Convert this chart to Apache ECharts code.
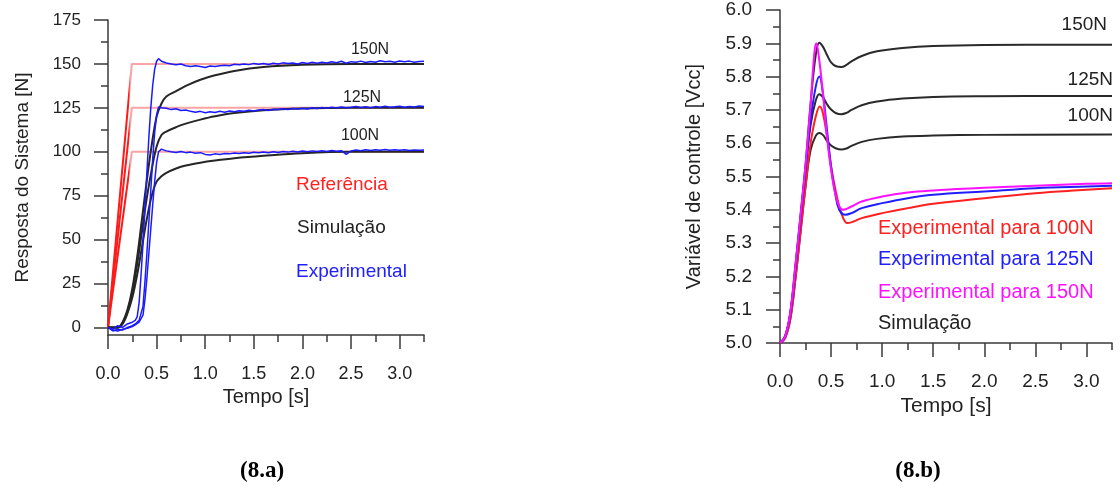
<!DOCTYPE html>
<html><head><meta charset="utf-8">
<script src="https://cdn.jsdelivr.net/npm/echarts@6/dist/echarts.min.js"></script>
<style>html,body{margin:0;padding:0;background:#fff}#c{width:1120px;height:490px}</style>
</head><body><div id="c"></div><script>
// ---------- Chart 8.a : system response ----------
const xMajor = [0, 0.5, 1, 1.5, 2, 2.5, 3];
const xMinor = [0.25, 0.75, 1.25, 1.75, 2.25, 2.75, 3.25];
const leftYMajor = [0, 25, 50, 75, 100, 125, 150, 175];
const leftYMinor = [12.5, 37.5, 62.5, 87.5, 112.5, 137.5, 162.5];

const refT = [0, 0.245, 3.25];
const ref150 = [0, 150, 150];
const ref125 = [0, 125, 125];
const ref100 = [0, 100, 100];

const simT = [0, 0.1, 0.15, 0.2, 0.25, 0.3, 0.35, 0.4, 0.45, 0.5, 0.55, 0.6, 0.7, 0.8, 0.95, 1.1, 1.3, 1.6, 2.0, 2.5, 3.25];
const sim150 = [0, 0, 3, 10, 22, 40, 62, 84, 104, 120, 127.5, 131.5, 134.5, 137.5, 141, 143.5, 146, 148.2, 149.5, 150, 150];
const sim125 = [0, 0, 2.5, 9, 20, 36, 55, 74, 90, 103, 109.5, 111.5, 114, 116, 118.3, 120.2, 122, 123.6, 124.6, 125, 125];
const sim100 = [0, 0, 2, 8, 17, 30, 46, 62, 75, 83, 86, 88, 90.5, 92.2, 93.8, 95, 96.3, 97.7, 99.2, 100, 100];

const expT = [0, 0.05, 0.1, 0.15, 0.2, 0.25, 0.28, 0.3, 0.32, 0.34, 0.36, 0.38, 0.4, 0.42, 0.44, 0.46, 0.48, 0.5, 0.52, 0.55,
  0.6, 0.65, 0.7, 0.75, 0.8, 0.85, 0.9, 0.95, 1, 1.05, 1.1, 1.15, 1.2, 1.25, 1.3, 1.35, 1.4, 1.45, 1.5, 1.55, 1.6, 1.65, 1.7, 1.75,
  1.8, 1.85, 1.9, 1.95, 2, 2.05, 2.1, 2.15, 2.2, 2.25, 2.3, 2.35, 2.4, 2.45, 2.5, 2.55, 2.6, 2.65, 2.7, 2.75, 2.8, 2.85, 2.9, 2.95,
  3, 3.05, 3.1, 3.15, 3.2, 3.25];
const exp150 = [0, -1, 1, 0, 2, 3, 4, 6, 14, 30, 48, 68, 88, 108, 125, 138, 147, 151.5, 153, 151.5,
  150.5, 150, 149.5, 150, 149, 148.5, 149, 148.5, 148, 148.8, 148.5, 149, 149.3, 149, 149.8, 149.5, 150, 149.6, 150.3, 149.8,
  150.2, 149.7, 150.4, 150, 150.6, 150.2, 150.5, 150, 150.8, 150.3, 150.9, 150.4, 151, 150.5, 151.2, 150.7, 151.5, 150.4,
  151.3, 151, 151.6, 150.8, 151.4, 151, 151.8, 151.2, 151.5, 151, 151.7, 151.2, 151.6, 151, 151.4, 151.5];
const exp125 = [0, -2, -1, -1.5, 0, 1, 2, 3, 4, 5, 12, 26, 42, 60, 78, 96, 111, 121, 125.5, 125,
  124.8, 124, 124.5, 123.5, 123.8, 123, 122.5, 123, 122.2, 122.8, 122.4, 123, 122.5, 123.2, 122.8, 123.4, 123, 123.6, 123.2,
  123.8, 124, 123.5, 124.2, 124, 124.5, 124.1, 124.6, 124.3, 124.8, 124.4, 125, 124.6, 125.2, 124.8, 125.4, 124.9, 125.5,
  125, 125.3, 125.8, 125.2, 125.6, 125.1, 125.7, 125.3, 125.9, 125.4, 125.6, 125.9, 125.3, 125.8, 125.5, 126, 125.7];
const exp100 = [0, -1.5, -2, -1, -0.5, 0.5, 1.5, 2, 3, 4, 7, 16, 28, 42, 56, 70, 83, 94, 100, 101.5,
  100.5, 100, 99.6, 100.2, 99.5, 99.8, 99.2, 99.5, 98.5, 98.2, 98.8, 98.5, 99, 98.8, 99.3, 99, 99.5, 99.2, 99.7, 99.4, 99.9,
  99.5, 100, 99.6, 100.2, 99.8, 100.3, 99.9, 100.4, 100, 100.5, 100.1, 100.6, 100.2, 100.7, 100.3, 100.6, 98.5, 100.5, 101,
  100.6, 101.2, 100.7, 101.1, 100.8, 101.3, 100.9, 101.2, 100.8, 101.1, 100.7, 101, 100.9, 101];

// ---------- Chart 8.b : control variable ----------
const rightYMajor = [5.0, 5.1, 5.2, 5.3, 5.4, 5.5, 5.6, 5.7, 5.8, 5.9, 6.0];
const rightYMinor = [5.05, 5.15, 5.25, 5.35, 5.45, 5.55, 5.65, 5.75, 5.85, 5.95];

const ctrlSimT = [0, 0.05, 0.1, 0.15, 0.2, 0.25, 0.3, 0.35, 0.385, 0.42, 0.46, 0.5, 0.55, 0.6, 0.65, 0.7, 0.8, 0.95, 1.2, 1.5, 2.0, 3.25];
const ctrlSim150 = [5, 5.02, 5.09, 5.23, 5.38, 5.535, 5.72, 5.865, 5.902, 5.89, 5.865, 5.843, 5.831, 5.829, 5.835, 5.846, 5.862, 5.876, 5.886, 5.892, 5.895, 5.896];
const ctrlSim125 = [5, 5.02, 5.085, 5.22, 5.37, 5.52, 5.655, 5.728, 5.747, 5.738, 5.717, 5.701, 5.69, 5.687, 5.691, 5.7, 5.714, 5.725, 5.734, 5.739, 5.741, 5.742];
const ctrlSim100 = [5, 5.015, 5.07, 5.19, 5.33, 5.47, 5.58, 5.622, 5.631, 5.625, 5.607, 5.593, 5.584, 5.581, 5.584, 5.592, 5.604, 5.613, 5.62, 5.623, 5.625, 5.626];

const ctrlExp150T = [0, 0.05, 0.1, 0.15, 0.2, 0.25, 0.3, 0.336, 0.355, 0.38, 0.42, 0.46, 0.5, 0.54, 0.58, 0.62, 0.7, 0.8, 1.0, 1.25, 1.5, 2.0, 2.5, 3.0, 3.25];
const ctrlExp150 = [5, 5.02, 5.09, 5.23, 5.38, 5.535, 5.72, 5.87, 5.9, 5.86, 5.75, 5.62, 5.52, 5.45, 5.41, 5.4, 5.41, 5.425, 5.44, 5.452, 5.458, 5.466, 5.472, 5.478, 5.48];
const ctrlExp125T = [0, 0.05, 0.1, 0.15, 0.2, 0.25, 0.3, 0.35, 0.385, 0.42, 0.46, 0.5, 0.54, 0.58, 0.64, 0.7, 0.8, 1.0, 1.25, 1.5, 2.0, 2.5, 3.0, 3.25];
const ctrlExp125 = [5, 5.02, 5.085, 5.22, 5.37, 5.52, 5.67, 5.77, 5.8, 5.75, 5.64, 5.53, 5.45, 5.4, 5.385, 5.39, 5.405, 5.42, 5.435, 5.445, 5.455, 5.465, 5.47, 5.472];
const ctrlExp100T = [0, 0.05, 0.1, 0.15, 0.2, 0.25, 0.3, 0.35, 0.39, 0.42, 0.46, 0.5, 0.55, 0.6, 0.66, 0.72, 0.8, 1.0, 1.25, 1.5, 2.0, 2.5, 3.0, 3.25];
const ctrlExp100 = [5, 5.015, 5.07, 5.19, 5.33, 5.47, 5.6, 5.68, 5.71, 5.69, 5.62, 5.53, 5.45, 5.39, 5.36, 5.365, 5.375, 5.39, 5.405, 5.418, 5.435, 5.45, 5.46, 5.465];

// ---------- build ----------
const FONT = 'Liberation Sans';
const AX = '#3a3a3a';
const pair = (t, v) => t.map((x, i) => [x, v[i]]);

function majorX(grid, fs, margin, nameGap, tickLen) {
  return {
    type: 'value', gridIndex: grid, min: 0, max: 3.25, position: 'bottom',
    axisLine: {show: true, onZero: false, lineStyle: {color: AX, width: 1.5}},
    axisTick: {show: true, customValues: xMajor, length: tickLen, lineStyle: {color: AX, width: 1.5}},
    axisLabel: {customValues: xMajor, formatter: v => v.toFixed(1), margin: margin, fontSize: fs, color: '#222', fontFamily: FONT},
    splitLine: {show: false},
    name: 'Tempo [s]', nameLocation: 'middle', nameGap: nameGap,
    nameTextStyle: {fontSize: fs + 2, color: '#222', fontFamily: FONT}
  };
}
function minorX(grid, tickLen) {
  return {
    type: 'value', gridIndex: grid, min: 0, max: 3.25, position: 'bottom',
    axisLine: {show: false, onZero: false},
    axisTick: {show: true, customValues: xMinor, length: tickLen, lineStyle: {color: AX, width: 1.5}},
    axisLabel: {show: false}, splitLine: {show: false}
  };
}
function majorY(grid, min, max, vals, fmt, fs, margin, name, nameGap, nfs, tickLen) {
  return {
    type: 'value', gridIndex: grid, min: min, max: max, position: 'left',
    axisLine: {show: true, onZero: false, lineStyle: {color: AX, width: 1.5}},
    axisTick: {show: true, customValues: vals, length: tickLen, lineStyle: {color: AX, width: 1.5}},
    axisLabel: {customValues: vals, formatter: fmt, margin: margin, fontSize: fs, color: '#222', fontFamily: FONT},
    splitLine: {show: false},
    name: name, nameLocation: 'middle', nameGap: nameGap,
    nameTextStyle: {fontSize: nfs, color: '#222', fontFamily: FONT}
  };
}
function minorY(grid, min, max, vals, tickLen) {
  return {
    type: 'value', gridIndex: grid, min: min, max: max, position: 'left',
    axisLine: {show: false, onZero: false},
    axisTick: {show: true, customValues: vals, length: tickLen, lineStyle: {color: AX, width: 1.5}},
    axisLabel: {show: false}, splitLine: {show: false}
  };
}

const refColor = new echarts.graphic.LinearGradient(0, 0, 1, 0, [
  {offset: 0, color: '#ff1a1a'}, {offset: 0.072, color: '#ff1a1a'},
  {offset: 0.078, color: '#f9a4a4'}, {offset: 1, color: '#f9a4a4'}
]);
function line(x, y, data, color, width, smooth, z) {
  return {type: 'line', xAxisIndex: x, yAxisIndex: y, data: data, showSymbol: false, symbol: 'none',
    smooth: smooth, lineStyle: {color: color, width: width}, z: z, clip: false};
}

const series = [
  line(0, 0, pair(refT, ref150), refColor, 2, false, 2),
  line(0, 0, pair(refT, ref125), refColor, 2, false, 2),
  line(0, 0, pair(refT, ref100), refColor, 2, false, 2),
  line(0, 0, pair(simT, sim150), '#262626', 2, 0.35, 3),
  line(0, 0, pair(simT, sim125), '#262626', 2, 0.35, 3),
  line(0, 0, pair(simT, sim100), '#262626', 2, 0.35, 3),
  line(0, 0, pair(expT, exp150), '#1a1aff', 1.5, false, 4),
  line(0, 0, pair(expT, exp125), '#1a1aff', 1.5, false, 4),
  line(0, 0, pair(expT, exp100), '#1a1aff', 1.5, false, 4),

  line(2, 2, pair(ctrlSimT, ctrlSim150), '#2a2a2a', 2, 0.4, 2),
  line(2, 2, pair(ctrlSimT, ctrlSim125), '#2a2a2a', 2, 0.4, 2),
  line(2, 2, pair(ctrlSimT, ctrlSim100), '#2a2a2a', 2, 0.4, 2),
  line(2, 2, pair(ctrlExp100T, ctrlExp100), '#ff2020', 2, 0.4, 3),
  line(2, 2, pair(ctrlExp125T, ctrlExp125), '#2020ff', 2, 0.4, 4),
  line(2, 2, pair(ctrlExp150T, ctrlExp150), '#ff10ff', 2, 0.4, 5)
];

function txt(x, y, s, color, size, align) {
  return {type: 'text', x: x, y: y, z: 10,
    style: {text: s, fill: color, font: size + 'px "' + FONT + '"', textAlign: align || 'left', textVerticalAlign: 'middle'}};
}
function cap(x, y, s) {
  return {type: 'text', x: x, y: y, z: 10,
    style: {text: s, fill: '#000', font: 'bold 23px "Liberation Serif"', textAlign: 'center', textVerticalAlign: 'middle'}};
}

const option = {
  animation: false,
  backgroundColor: '#fff',
  grid: [
    {left: 108, top: 20, width: 316, height: 315},
    {left: 780, top: 10, width: 332, height: 333}
  ],
  xAxis: [majorX(0, 18, 30, 49, 14), minorX(0, 7), majorX(1, 19, 29, 50, 14), minorX(1, 7)],
  yAxis: [
    majorY(0, -4.3, 175, leftYMajor, v => String(v), 17, 27, 'Resposta do Sistema [N]', 76, 19, 14),
    minorY(0, -4.3, 175, leftYMinor, 7),
    majorY(1, 5, 6, rightYMajor, v => v.toFixed(1), 19, 28, 'Variável de controle [Vcc]', 76, 20, 14),
    minorY(1, 5, 6, rightYMinor, 7)
  ],
  series: series,
  graphic: [
    txt(370, 50, '150N', '#222', 16, 'center'),
    txt(362, 98, '125N', '#222', 16, 'center'),
    txt(360, 136, '100N', '#222', 16, 'center'),
    txt(296, 185, 'Referência', '#ff2020', 19),
    txt(297, 228, 'Simulação', '#222', 19),
    txt(296, 272, 'Experimental', '#2020ff', 19),
    txt(1107, 25, '150N', '#222', 19, 'right'),
    txt(1113, 80, '125N', '#222', 19, 'right'),
    txt(1113, 116, '100N', '#222', 19, 'right'),
    txt(878, 228, 'Experimental para 100N', '#ff2020', 20),
    txt(878, 259, 'Experimental para 125N', '#2020ff', 20),
    txt(878, 292, 'Experimental para 150N', '#ff10ff', 20),
    txt(878, 323, 'Simulação', '#222', 20),
    cap(262, 471, '(8.a)'),
    cap(918, 471, '(8.b)')
  ]
};
echarts.init(document.getElementById('c'), null, {renderer: 'canvas'}).setOption(option);
</script></body></html>
